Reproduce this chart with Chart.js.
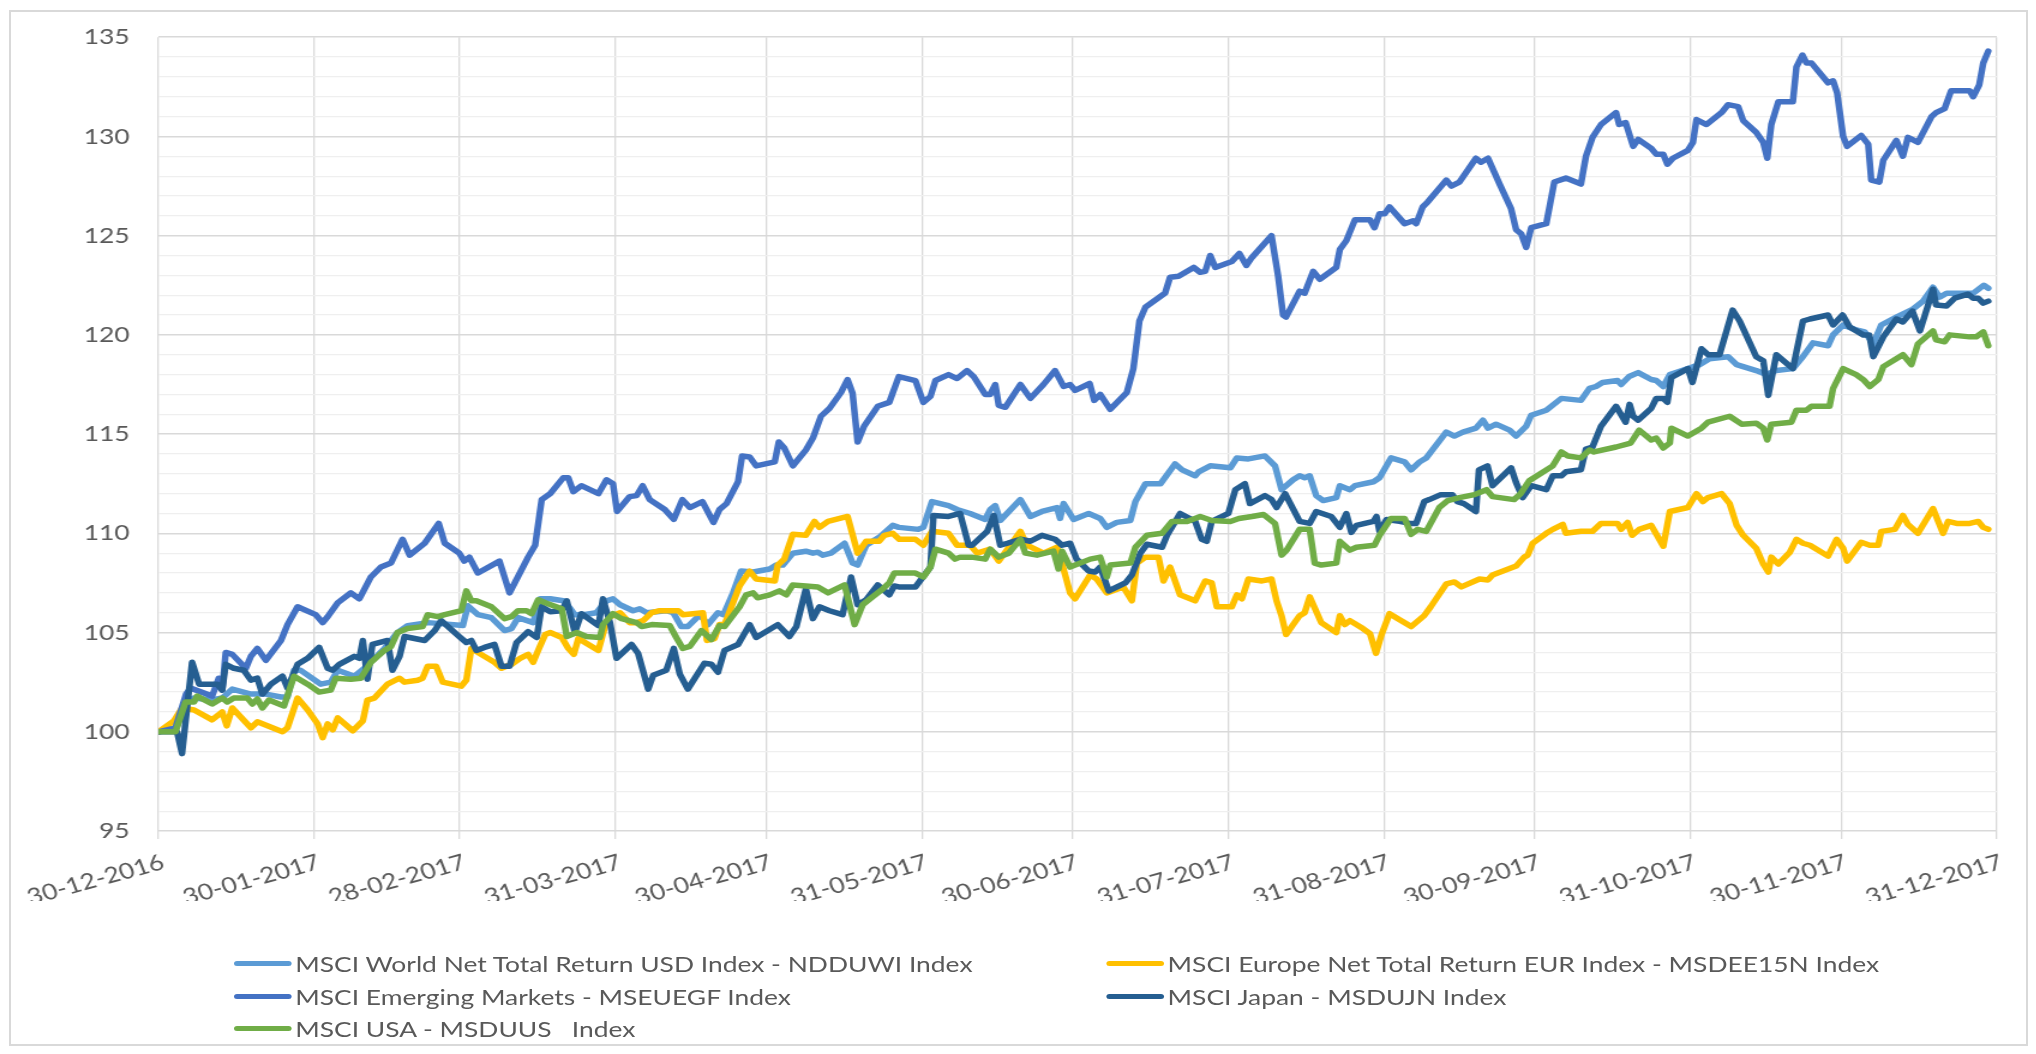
<!DOCTYPE html>
<html>
<head>
<meta charset="utf-8">
<script src="https://cdn.jsdelivr.net/npm/chart.js@4.4.0/dist/chart.umd.min.js"></script>
<style>
html,body{margin:0;padding:0;background:#ffffff;}
body{width:2036px;height:1054px;position:relative;overflow:hidden;}
#frame{position:absolute;left:9px;top:10px;width:2019px;height:1036px;border:2px solid #d9d9d9;box-sizing:border-box;}
#stretch{position:absolute;left:0;top:0;width:1697px;height:1054px;transform:scaleX(1.2);transform-origin:0 0;}
#chart{position:absolute;left:0;top:0;}
#legend{position:absolute;left:0;top:0;width:1697px;height:1054px;}
.item{position:absolute;height:30px;display:flex;align-items:center;font-family:Lato,sans-serif;font-size:22px;color:#595959;white-space:pre;}
.swatch{width:48px;height:5px;border-radius:3px;margin-right:3px;}
</style>
</head>
<body>
<div id="frame"></div>
<div id="stretch">
  <canvas id="chart" width="1697" height="1054"></canvas>
  <div id="legend"></div>
</div>
<script>
// ---- Tick labels / axis values ----
const monthEndDays = [0, 31, 60, 91, 121, 152, 182, 213, 244, 274, 305, 335, 366];
const tickLabels = ['30-12-2016','30-01-2017','28-02-2017','31-03-2017','30-04-2017','31-05-2017',
  '30-06-2017','31-07-2017','31-08-2017','30-09-2017','31-10-2017','30-11-2017','31-12-2017'];
const yLabels = [95, 100, 105, 110, 115, 120, 125, 130, 135];

const seriesNames = [
  'MSCI World Net Total Return USD Index - NDDUWI Index',
  'MSCI Europe Net Total Return EUR Index - MSDEE15N Index',
  'MSCI Emerging Markets - MSEUEGF Index',
  'MSCI Japan - MSDUJN Index',
  'MSCI USA - MSDUUS   Index'
];
const seriesColors = ['#5B9BD5', '#FFC000', '#4472C4', '#255E91', '#70AD47'];

// ---- Series data (x = days since 30-12-2016) ----
const worldDays = [0,3.4,5.7,7.1,10.7,12.7,14.7,18.4,21.4,24.4,25.7,27.0,28.3,32.3,34.3,35.7,39.0,41.0,45.0,47.6,49.6,53.6,56.3,60.6,61.6,63.6,66.3,68.9,70.3,71.6,74.6,76.0,78.0,80.6,82.0,82.9,84.6,87.2,89.2,90.5,91.9,94.5,95.8,97.2,101.1,102.5,104.1,105.4,107.8,109.4,111.4,112.5,114.4,116.0,118.4,121.7,123.0,124.3,126.3,128.9,130.3,131.3,132.3,133.9,136.6,138.2,139.2,140.9,143.5,146.2,147.4,151.3,152.3,154.0,157.3,159.0,161.6,164.6,165.6,166.6,167.6,171.6,173.6,175.9,178.9,179.5,180.2,182.2,185.2,187.5,188.8,190.8,193.5,194.5,196.5,199.5,202.4,203.8,206.4,207.1,209.4,213.4,214.7,217.0,220.3,222.3,223.6,225.9,227.2,228.2,229.2,230.5,231.9,234.5,235.2,237.2,238.2,241.9,243.1,245.4,248.1,249.4,251.1,252.4,256.4,258.0,259.7,262.3,263.7,264.7,266.3,269.0,270.3,272.3,273.3,276.3,279.3,283.2,284.9,286.2,287.5,290.5,291.2,292.8,294.6,297.2,298.2,299.6,300.9,304.5,306.8,308.8,312.5,314.2,318.1,320.1,322.1,325.4,327.4,329.4,332.4,333.4,335.4,338.0,339.7,341.4,343.0,346.0,349.3,351.3,353.3,354.6,356.0,359.3,361.3,363.4,364.3];
const worldVals = [100,100.1,101.55,101.7,101.6,101.7,102.15,101.9,101.9,101.75,101.75,103.1,103.1,102.4,102.5,103.1,102.8,103.2,104.2,105.0,105.35,105.5,105.45,105.35,106.35,105.9,105.75,105.1,105.2,105.75,105.5,106.7,106.7,106.6,106.2,105.9,105.9,106.0,106.6,106.7,106.4,106.1,106.2,106.0,106.1,106.0,105.3,105.3,105.9,105.4,106.0,105.9,107.0,108.1,108.05,108.2,108.4,108.4,109.0,109.1,109.0,109.05,108.9,109.0,109.5,108.5,108.4,109.4,109.8,110.4,110.3,110.2,110.3,111.6,111.4,111.2,111.0,110.7,111.2,111.4,110.65,111.7,110.85,111.1,111.3,110.75,111.5,110.7,111.0,110.75,110.3,110.55,110.65,111.6,112.5,112.5,113.5,113.2,112.9,113.1,113.4,113.3,113.8,113.75,113.9,113.4,112.2,112.7,112.9,112.8,112.9,111.9,111.65,111.8,112.4,112.2,112.4,112.6,112.8,113.8,113.6,113.2,113.6,113.8,115.1,114.9,115.1,115.3,115.7,115.3,115.5,115.2,114.9,115.4,115.95,116.2,116.8,116.7,117.3,117.4,117.6,117.7,117.5,117.9,118.1,117.75,117.7,117.4,118.0,118.3,118.5,118.8,118.9,118.5,118.2,118.0,118.2,118.3,118.9,119.6,119.45,120.0,120.5,120.25,120.15,119.55,120.5,120.9,121.3,121.7,122.4,121.9,122.1,122.1,122.1,122.5,122.35];

const europeDays = [0,3.1,4.7,7.1,10.7,12.7,13.6,14.7,18.4,19.7,21.7,24.7,25.7,27.7,29.7,31.7,32.7,33.7,34.7,35.7,38.7,40.7,41.6,43.0,45.6,48.0,49.0,51.6,52.6,53.6,55.3,56.6,60.3,61.3,62.3,64.9,66.9,68.3,70.3,72.0,73.6,74.6,75.6,77.0,78.0,80.3,81.6,82.7,83.6,87.6,88.9,89.9,91.9,93.8,95.2,96.5,98.2,99.8,103.5,104.4,108.4,109.2,110.7,111.7,112.7,115.7,117.7,119.0,122.7,123.3,124.6,126.3,128.9,130.6,131.6,133.3,137.2,139.2,140.9,143.5,144.5,146.2,147.5,150.7,152.3,154.0,157.3,159.0,161.6,163.0,165.6,167.3,171.6,172.9,176.2,178.9,180.2,181.5,182.5,185.5,186.8,188.8,192.1,193.8,194.8,196.5,199.1,200.1,201.4,203.4,206.4,208.4,209.7,210.7,213.7,214.7,215.7,217.0,219.7,221.6,222.6,223.6,224.5,225.9,227.2,228.2,229.2,231.5,234.5,235.2,236.2,237.2,239.8,241.2,242.4,243.5,245.1,247.1,249.4,252.0,253.3,256.4,258.0,259.4,263.0,264.7,265.6,270.3,271.9,272.6,273.6,276.3,277.6,279.6,280.2,283.2,285.5,287.2,290.5,291.2,292.5,293.4,294.8,297.2,299.6,300.9,304.5,306.2,307.5,308.5,311.2,312.8,314.2,315.5,318.1,319.5,320.5,321.1,322.5,324.8,326.1,327.4,328.8,332.4,334.1,335.4,336.2,339.0,340.7,342.4,343.0,345.7,347.3,348.3,350.3,353.3,355.3,356.3,358.0,360.6,362.3,363.3,364.3];
const europeVals = [100,100.55,101.2,101.1,100.6,101.0,100.3,101.2,100.2,100.5,100.3,100.0,100.2,101.7,101.1,100.4,99.7,100.4,100.1,100.7,100.05,100.55,101.6,101.7,102.4,102.7,102.5,102.6,102.7,103.3,103.3,102.5,102.3,102.6,104.2,103.8,103.5,103.2,103.4,103.7,103.9,103.5,104.1,104.9,105.0,104.75,104.2,103.9,104.7,104.1,105.3,105.8,106.0,105.5,105.5,105.6,106.0,106.1,106.1,105.9,106.0,104.6,104.7,105.4,105.4,107.35,108.1,107.7,107.6,108.4,108.7,109.95,109.9,110.6,110.3,110.6,110.85,109.0,109.6,109.6,109.9,110.0,109.7,109.7,109.4,110.1,110.0,109.4,109.4,109.0,109.2,108.6,110.1,109.4,109.0,109.3,108.2,107.0,106.7,107.9,107.7,107.0,107.3,106.6,108.5,108.8,108.8,107.6,108.3,106.9,106.6,107.6,107.5,106.3,106.3,106.9,106.7,107.7,107.6,107.7,106.6,105.85,104.9,105.4,105.85,106.0,106.8,105.5,105.0,105.85,105.4,105.6,105.2,104.95,103.95,104.9,105.95,105.65,105.3,105.85,106.3,107.45,107.55,107.3,107.7,107.65,107.9,108.35,108.8,108.9,109.5,110.0,110.2,110.45,110.0,110.1,110.1,110.5,110.5,110.2,110.55,109.9,110.2,110.4,109.35,111.1,111.3,112.0,111.6,111.8,112.0,111.5,110.4,109.9,109.25,108.45,108.05,108.8,108.45,109.05,109.7,109.5,109.4,108.85,109.7,109.25,108.6,109.55,109.4,109.4,110.1,110.2,110.9,110.45,110.0,111.25,110.0,110.6,110.5,110.5,110.6,110.3,110.2];

const emergingDays = [0,3.4,5.5,6.4,10.7,12.0,12.7,13.4,14.7,17.4,18.4,19.7,21.4,24.4,25.7,27.7,31.3,32.7,33.7,35.7,38.3,40.0,42.3,44.3,46.3,48.6,50.0,53.0,55.8,57.0,59.9,60.9,61.9,63.6,67.9,69.9,73.6,75.0,76.3,78.0,80.6,81.6,82.6,84.2,87.6,89.2,90.5,91.3,93.8,95.2,96.4,97.8,100.8,102.6,104.3,105.8,108.3,110.5,111.7,113.1,115.4,116.2,117.7,119.0,122.7,123.5,124.6,126.3,128.9,130.3,131.9,133.6,135.9,137.2,138.2,139.2,140.5,143.2,145.5,147.4,150.7,152.3,153.7,154.7,157.3,159.0,161.0,162.3,164.6,165.6,166.6,167.3,168.6,171.6,173.6,176.2,178.5,180.2,181.5,182.5,185.4,186.3,187.5,189.5,192.8,194.1,195.3,196.5,200.4,201.4,203.1,206.1,207.4,208.4,209.4,210.4,213.7,215.2,216.6,217.7,221.6,222.9,223.9,224.5,227.2,228.2,229.9,231.2,234.5,235.2,236.5,238.2,241.2,242.1,243.1,244.1,245.1,248.1,249.8,250.4,251.7,252.7,256.4,257.4,259.0,262.3,263.3,264.7,267.0,269.3,270.3,271.3,272.3,273.3,276.3,277.9,280.2,283.2,284.2,285.5,287.2,290.2,290.8,292.1,293.6,294.6,297.2,298.2,299.6,300.4,301.5,304.5,305.5,306.2,308.2,311.2,312.5,314.5,315.5,318.1,319.5,320.3,321.1,322.5,325.4,326.1,327.3,328.1,329.1,332.4,333.4,334.2,335.4,336.2,339.0,340.4,341.0,342.6,343.4,346.0,347.3,348.3,350.3,353.0,353.9,355.6,356.9,360.6,361.3,362.5,363.3,364.3];
const emergingVals = [100,100.2,101.9,102.2,101.8,102.7,102.1,104.0,103.9,103.2,103.8,104.2,103.6,104.6,105.4,106.3,105.9,105.5,105.8,106.5,107.0,106.7,107.8,108.3,108.5,109.7,108.9,109.5,110.5,109.5,109.0,108.6,108.8,108.0,108.6,107.0,108.8,109.4,111.7,112.0,112.8,112.8,112.1,112.4,112.0,112.7,112.5,111.1,111.85,111.9,112.4,111.7,111.2,110.7,111.7,111.3,111.6,110.55,111.2,111.5,112.6,113.9,113.85,113.4,113.6,114.6,114.3,113.4,114.2,114.8,115.9,116.3,117.1,117.75,117.05,114.6,115.4,116.4,116.6,117.9,117.7,116.6,116.9,117.7,118.0,117.8,118.2,117.9,117.0,117.0,117.5,116.45,116.35,117.5,116.8,117.5,118.2,117.4,117.5,117.2,117.55,116.7,117.0,116.25,117.1,118.3,120.7,121.4,122.1,122.9,122.95,123.4,123.15,123.2,124.0,123.4,123.7,124.1,123.5,123.9,125.0,123.0,121.0,120.9,122.2,122.1,123.2,122.8,123.4,124.3,124.75,125.8,125.8,125.4,126.1,126.1,126.45,125.6,125.75,125.6,126.45,126.7,127.8,127.5,127.7,128.9,128.7,128.9,127.6,126.35,125.3,125.1,124.4,125.4,125.6,127.7,127.9,127.6,129.0,129.95,130.6,131.2,130.6,130.7,129.5,129.85,129.4,129.1,129.1,128.6,128.9,129.3,129.7,130.85,130.6,131.2,131.6,131.5,130.8,130.2,129.7,128.9,130.6,131.75,131.75,133.5,134.1,133.7,133.7,132.7,132.8,132.2,130.0,129.5,130.05,129.6,127.8,127.7,128.8,129.8,129.0,129.95,129.7,131.0,131.2,131.4,132.3,132.3,132.0,132.6,133.7,134.3];

const japanDays = [0,3.7,4.7,6.7,8.1,11.7,12.7,13.4,15.0,17.0,18.4,19.7,20.7,22.4,24.7,25.7,27.7,29.7,32.0,33.7,34.7,36.0,39.0,40.0,40.7,41.6,42.6,45.6,46.6,48.0,49.0,51.0,53.0,55.0,56.3,59.9,61.3,62.3,63.3,64.9,66.9,68.3,69.9,71.3,73.6,75.3,76.3,78.0,80.3,81.3,82.9,84.2,87.6,88.5,89.9,91.2,94.2,95.5,97.5,98.5,101.1,102.6,103.8,105.4,108.7,110.1,111.4,112.7,115.4,117.7,119.0,123.3,125.6,127.0,128.9,130.3,131.6,133.6,136.2,137.9,139.2,140.9,143.2,145.5,146.5,147.4,150.7,153.7,154.3,157.3,159.6,161.3,162.0,165.0,166.3,167.6,169.0,171.6,173.6,175.9,178.5,179.9,181.5,182.8,185.2,186.5,187.5,189.2,192.5,193.8,195.5,196.8,199.8,200.8,203.4,206.4,207.7,208.7,209.7,213.0,214.4,216.3,217.3,220.3,221.6,222.6,224.3,227.2,229.2,230.5,233.5,235.2,236.5,237.5,238.5,241.9,242.5,243.1,244.5,247.1,249.1,250.4,252.0,253.0,255.3,257.6,258.6,259.9,262.3,262.9,264.6,265.6,269.3,270.3,271.6,273.3,276.3,277.6,279.3,280.2,283.2,284.2,285.5,287.2,290.2,292.1,292.9,293.6,294.6,297.2,298.2,299.6,300.4,301.2,304.5,305.4,307.2,308.5,310.8,313.4,314.8,318.1,319.5,320.5,322.1,325.4,327.4,328.8,332.4,333.4,335.3,336.7,339.4,340.6,341.4,343.4,346.0,347.3,349.2,350.7,353.3,353.9,356.0,357.6,360.3,361.3,362.3,363.3,364.3];
const japanVals = [100,100,98.9,103.5,102.4,102.4,102.1,103.4,103.2,103.1,102.6,102.7,101.9,102.4,102.8,102.2,103.4,103.7,104.25,103.2,103.1,103.4,103.8,103.7,104.6,102.65,104.4,104.6,103.1,103.8,104.8,104.7,104.6,105.1,105.6,104.8,104.5,104.6,104.1,104.25,104.4,103.3,103.3,104.5,105.05,104.75,106.3,106.05,106.1,106.6,105.0,105.95,105.35,106.7,105.5,103.7,104.4,103.95,102.15,102.85,103.1,104.2,102.9,102.15,103.45,103.4,103.0,104.1,104.4,105.4,104.75,105.4,104.8,105.3,107.2,105.7,106.3,106.1,105.9,107.8,106.4,106.65,107.4,106.9,107.35,107.3,107.3,108.3,110.9,110.85,111.0,109.4,109.4,110.1,110.9,109.4,109.5,109.7,109.6,109.9,109.7,109.4,109.5,108.7,108.1,108.05,108.3,107.1,107.5,107.9,109.0,109.45,109.3,109.9,111.0,110.6,109.7,109.6,110.6,111.0,112.2,112.5,111.5,111.9,111.7,111.3,112.0,110.6,110.5,111.1,110.85,110.3,111.0,110.05,110.4,110.6,110.85,110.1,110.7,110.6,110.5,110.5,111.6,111.7,111.95,111.95,111.6,111.5,111.1,113.2,113.4,112.4,113.3,112.55,111.8,112.4,112.2,112.9,112.9,113.1,113.2,114.25,114.35,115.4,116.4,115.6,116.5,115.9,115.7,116.3,116.8,116.8,116.6,117.85,118.3,117.6,119.3,119.0,119.0,121.25,120.7,118.9,118.7,116.95,119.0,118.3,120.7,120.8,121.0,120.5,121.0,120.4,120.0,120.0,118.9,119.9,120.8,120.65,121.2,120.2,122.3,121.5,121.45,121.85,122.05,121.85,121.85,121.6,121.7];

const usaDays = [0,3.4,5.4,7.1,7.7,10.7,12.7,13.7,15.0,17.7,18.7,19.7,20.7,22.0,25.0,27.0,29.7,32.0,34.3,35.3,38.3,40.3,42.3,45.0,46.3,47.6,49.6,52.6,53.6,55.6,57.0,60.3,61.3,62.3,63.3,66.3,68.9,70.3,71.6,73.3,74.3,75.6,77.0,80.3,81.3,83.3,85.2,87.9,88.5,90.5,92.2,95.2,96.2,98.2,101.8,103.1,104.4,105.8,108.1,110.1,111.7,112.7,115.7,117.0,118.4,119.3,121.7,123.6,125.0,126.3,128.9,131.3,133.3,136.6,138.6,140.2,142.2,144.2,145.5,146.5,150.7,152.3,153.7,154.7,157.3,158.6,159.6,161.9,164.6,165.6,167.3,169.3,171.6,172.6,174.9,178.2,179.2,179.9,181.5,185.5,187.5,188.8,189.5,193.5,194.5,196.8,199.8,201.8,204.8,207.4,209.7,213.4,215.1,217.7,220.0,222.3,223.6,224.6,227.2,229.2,230.2,231.5,234.5,235.2,237.2,238.5,242.1,243.1,245.4,248.1,249.4,250.7,252.4,255.0,256.7,259.0,262.0,264.4,265.6,269.9,271.2,272.9,277.6,279.3,280.6,283.2,284.9,285.8,290.2,293.1,294.8,297.2,298.2,299.6,300.9,301.2,304.5,307.2,308.5,312.8,315.2,318.1,319.5,320.3,321.1,325.1,326.1,328.1,329.1,332.7,333.4,335.4,338.0,339.4,340.7,342.4,343.4,347.3,349.0,350.3,353.3,353.9,355.6,356.6,360.6,361.9,363.3,364.3];
const usaVals = [100,100,101.5,101.5,101.8,101.4,101.7,101.5,101.7,101.7,101.4,101.65,101.2,101.6,101.3,102.8,102.4,102.0,102.1,102.7,102.65,102.7,103.5,104.1,104.3,105.0,105.2,105.3,105.9,105.8,105.9,106.1,107.1,106.6,106.6,106.3,105.7,105.8,106.1,106.1,105.95,106.65,106.5,106.2,104.8,105.0,104.8,104.75,105.4,105.95,105.7,105.5,105.3,105.4,105.35,104.75,104.2,104.3,105.1,104.65,105.35,105.3,106.3,106.9,107.0,106.75,106.9,107.1,106.9,107.4,107.35,107.3,107.0,107.4,105.4,106.4,106.8,107.2,107.5,108.0,108.0,107.8,108.3,109.2,109.0,108.7,108.8,108.8,108.7,109.2,108.8,109.0,109.7,109.0,108.9,109.1,108.2,109.1,108.3,108.7,108.8,107.8,108.4,108.5,109.3,109.9,110.0,110.6,110.6,110.85,110.65,110.6,110.75,110.85,110.95,110.5,108.9,109.15,110.2,110.2,108.5,108.4,108.5,109.6,109.15,109.3,109.4,109.9,110.75,110.75,109.95,110.2,110.1,111.3,111.65,111.8,111.95,112.2,111.85,111.7,112.0,112.65,113.4,114.1,113.9,113.8,114.2,114.1,114.35,114.55,115.2,114.7,114.8,114.3,114.55,115.3,114.9,115.3,115.6,115.9,115.5,115.55,115.3,114.7,115.5,115.6,116.2,116.2,116.4,116.4,117.3,118.3,118.0,117.75,117.4,117.75,118.4,119.0,118.5,119.55,120.2,119.75,119.65,120.0,119.9,119.9,120.15,119.45];

// ---- Build chart ----
const dayArrays = [worldDays, europeDays, emergingDays, japanDays, usaDays];
const valArrays = [worldVals, europeVals, emergingVals, japanVals, usaVals];
const drawOrder = [4, 3, 2, 1, 0]; // later series drawn on top, as in the original

const datasets = seriesNames.map((name, k) => ({
  label: name,
  data: dayArrays[k].map((d, i) => ({ x: d, y: valArrays[k][i] })),
  borderColor: seriesColors[k],
  backgroundColor: seriesColors[k],
  order: drawOrder[k]
}));

const FONT = { family: 'Lato, sans-serif', size: 22 };

new Chart(document.getElementById('chart').getContext('2d'), {
  type: 'line',
  data: { datasets },
  options: {
    responsive: false,
    animation: false,
    devicePixelRatio: 1,
    layout: { padding: { left: 0, right: 33, top: 35, bottom: 153 } },
    elements: {
      point: { radius: 0, hoverRadius: 0 },
      line: { borderWidth: 5.5, tension: 0, borderJoinStyle: 'round', borderCapStyle: 'round', fill: false }
    },
    plugins: { legend: { display: false }, tooltip: { enabled: false } },
    scales: {
      x: {
        type: 'linear',
        min: monthEndDays[0],
        max: monthEndDays[monthEndDays.length - 1],
        afterBuildTicks: (s) => { s.ticks = monthEndDays.map(v => ({ value: v })); },
        afterFit: (s) => { s.height = 70; },
        ticks: {
          autoSkip: false, maxRotation: 18, minRotation: 18,
          color: '#595959', font: FONT, padding: 10, labelOffset: 4,
          callback: (v, i) => tickLabels[i]
        },
        grid: { color: '#d9d9d9', lineWidth: 1.3, tickLength: 8, drawOnChartArea: true },
        border: { display: false }
      },
      y: {
        min: yLabels[0],
        max: yLabels[yLabels.length - 1],
        afterBuildTicks: (s) => {
          const t = [];
          for (let v = yLabels[0]; v <= yLabels[yLabels.length - 1]; v++) t.push({ value: v });
          s.ticks = t;
        },
        afterFit: (s) => { s.width = 132; },
        ticks: {
          autoSkip: false, color: '#595959', font: FONT, padding: 24,
          callback: (v) => (yLabels.includes(v) ? String(v) : '')
        },
        grid: {
          drawTicks: false,
          color: (c) => (c.tick && yLabels.includes(c.tick.value) ? '#d9d9d9' : '#efefef'),
          lineWidth: (c) => (c.tick && yLabels.includes(c.tick.value) ? 1.5 : 1.2)
        },
        border: { display: false }
      }
    }
  }
});

// ---- Legend (two columns, as in the original) ----
const legend = document.getElementById('legend');
const legendCols = [195, 922];
const legendRows = [963, 996, 1028];
seriesNames.forEach((name, k) => {
  const item = document.createElement('div');
  item.className = 'item';
  item.style.left = legendCols[k % 2] + 'px';
  item.style.top = (legendRows[Math.floor(k / 2)] - 15) + 'px';
  const sw = document.createElement('span');
  sw.className = 'swatch';
  sw.style.background = seriesColors[k];
  const tx = document.createElement('span');
  tx.textContent = name;
  item.appendChild(sw);
  item.appendChild(tx);
  legend.appendChild(item);
});
</script>
</body>
</html>
